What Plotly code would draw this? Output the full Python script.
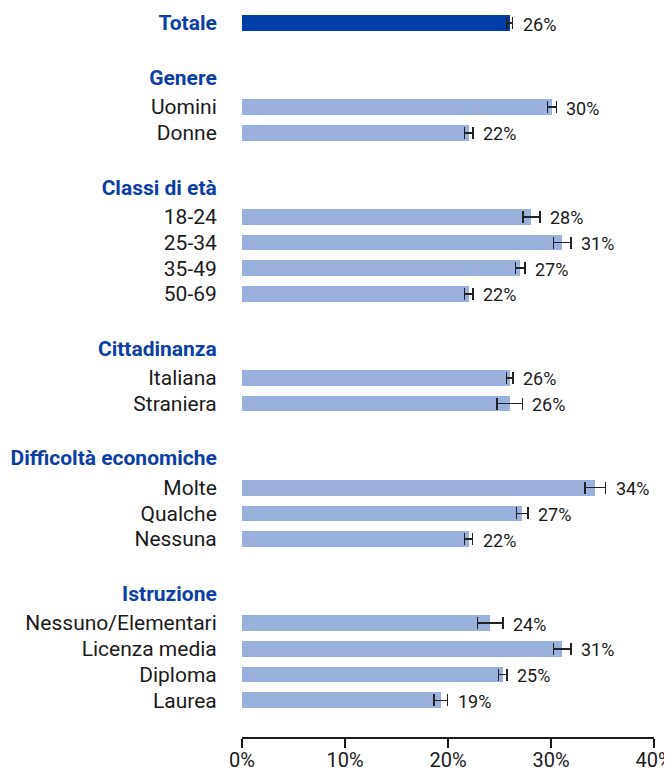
import plotly.graph_objects as go

# ---- data ----
total_label = "Totale"
total_value = 26.0
total_err = 0.27
total_text = "26%"

groups = ["Genere", "Classi di età", "Cittadinanza", "Difficoltà economiche", "Istruzione"]
group_items = [
    ["Uomini", "Donne"],
    ["18-24", "25-34", "35-49", "50-69"],
    ["Italiana", "Straniera"],
    ["Molte", "Qualche", "Nessuna"],
    ["Nessuno/Elementari", "Licenza media", "Diploma", "Laurea"],
]
group_values = [
    [30.1, 22.0],
    [28.1, 31.1, 27.0, 22.0],
    [26.0, 26.0],
    [34.3, 27.2, 22.0],
    [24.1, 31.1, 25.3, 19.3],
]
group_errors = [
    [0.42, 0.42],
    [0.84, 0.86, 0.46, 0.42],
    [0.31, 1.23],
    [1.0, 0.56, 0.38],
    [1.25, 0.86, 0.42, 0.67],
]
value_labels = [
    ["30%", "22%"],
    ["28%", "31%", "27%", "22%"],
    ["26%", "26%"],
    ["34%", "27%", "22%"],
    ["24%", "31%", "25%", "19%"],
]
x_tickvals = [0, 10, 20, 30, 40]
x_ticktext = ["0%", "10%", "20%", "30%", "40%"]

# ---- layout rule for rows ----
GROUP_GAP = 2.12
HEADER_TO_FIRST = 1.15
DARK = "#003FA6"
LIGHT = "#9AB1DD"
HEAD_COLOR = "#0B3FA3"
TEXT = "#1a1a1a"
FONT = "Roboto"

tickvals, ticktext = [], []
pos = 0.0
tickvals.append(pos)
ticktext.append(f"<b><span style='color:{HEAD_COLOR};font-size:21px'>{total_label}</span></b>")
total_pos = pos

bar_y, bar_x, bar_err, bar_txt = [], [], [], []
for g, items, vals, errs, labs in zip(groups, group_items, group_values, group_errors, value_labels):
    pos += GROUP_GAP
    tickvals.append(pos)
    ticktext.append(f"<b><span style='color:{HEAD_COLOR};font-size:21px'>{g}</span></b>")
    for i, (it, v, e, lb) in enumerate(zip(items, vals, errs, labs)):
        pos += HEADER_TO_FIRST if i == 0 else 1.0
        tickvals.append(pos)
        ticktext.append(it)
        bar_y.append(pos)
        bar_x.append(v)
        bar_err.append(e)
        bar_txt.append(lb)

last = pos

fig = go.Figure()
fig.add_trace(go.Bar(
    y=[total_pos], x=[total_value], orientation="h",
    marker=dict(color=DARK, line=dict(width=0)), width=0.61,
    error_x=dict(type="data", array=[total_err], color="#222222", thickness=1.5, width=6),
    showlegend=False, hoverinfo="skip",
))
fig.add_trace(go.Bar(
    y=bar_y, x=bar_x, orientation="h",
    marker=dict(color=LIGHT, line=dict(width=0)), width=0.61,
    error_x=dict(type="data", array=bar_err, color="#222222", thickness=1.5, width=6),
    showlegend=False, hoverinfo="skip",
))

all_y = [total_pos] + bar_y
all_end = [total_value + total_err] + [v + e for v, e in zip(bar_x, bar_err)]
all_txt = [total_text] + bar_txt
for yy, xx, tt in zip(all_y, all_end, all_txt):
    fig.add_annotation(
        x=xx, y=yy, text=tt, xref="x", yref="y",
        xanchor="left", yanchor="middle", xshift=8, yshift=-1,
        showarrow=False, font=dict(family=FONT, size=18, color=TEXT),
    )

fig.update_layout(
    width=664, height=765,
    margin=dict(l=234, r=18, t=0, b=36),
    paper_bgcolor="white", plot_bgcolor="white",
    font=dict(family=FONT, size=21, color=TEXT),
    bargap=0,
)
fig.update_yaxes(
    range=[last + 1.43, -0.584],
    tickvals=tickvals, ticktext=ticktext,
    showgrid=False, zeroline=False, showline=False,
    ticks="outside", ticklen=20, tickcolor="rgba(0,0,0,0)",
    tickfont=dict(family=FONT, size=21, color=TEXT),
    automargin=False,
)
fig.update_xaxes(
    range=[0, 40],
    tickvals=x_tickvals, ticktext=x_ticktext,
    showgrid=False, zeroline=False,
    showline=True, linecolor=TEXT, linewidth=1.5,
    ticks="outside", ticklen=9, tickcolor=TEXT, tickwidth=1.5,
    tickfont=dict(family=FONT, size=20, color=TEXT),
    ticklabeloverflow="allow",
    ticklabelstandoff=-5,
    automargin=False,
)

fig.write_html("out.html")
